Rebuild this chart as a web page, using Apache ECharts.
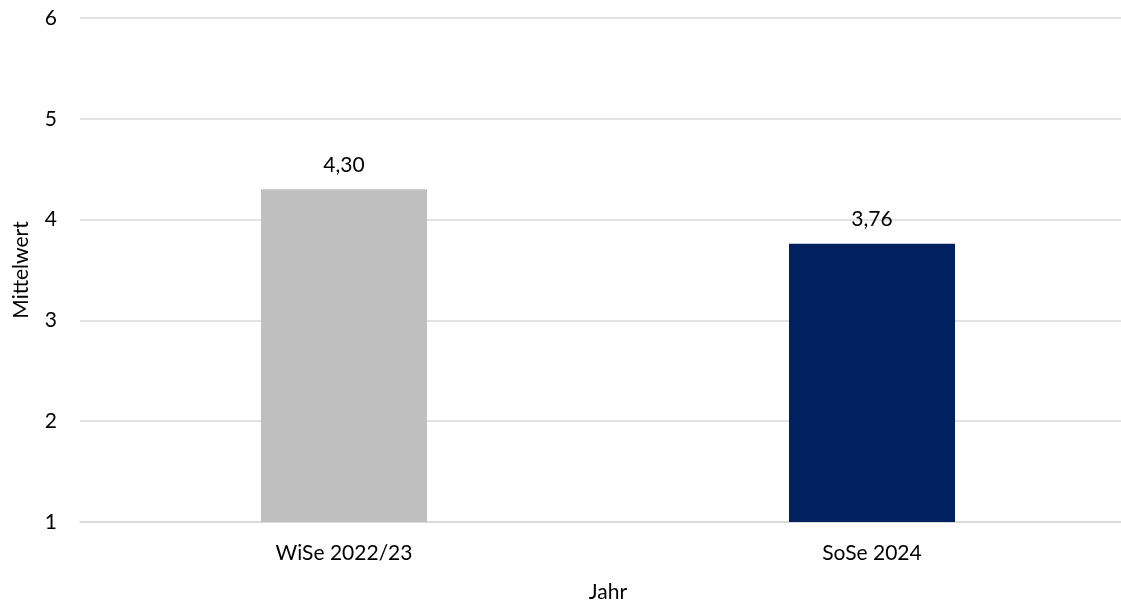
<!DOCTYPE html>
<html>
<head>
<meta charset="utf-8">
<script src="https://cdn.jsdelivr.net/npm/echarts@6/dist/echarts.min.js"></script>
<style>html,body{margin:0;padding:0;background:#fff}#c{width:1121px;height:602px}</style>
</head>
<body>
<div id="c"></div>
<script>
const categories = ['WiSe 2022/23', 'SoSe 2024'];
const values = [4.30, 3.76];
const barColors = ['#BFBFBF', '#002060'];
const yTicks = [1, 2, 3, 4, 5, 6];

const chart = echarts.init(document.getElementById('c'), null, {renderer: 'canvas'});
const font = 'Lato, "Open Sans", sans-serif';
const fs = 21;
chart.setOption({
  animation: false,
  grid: {left: 80, top: 18, width: 1056, height: 504, containLabel: false, outerBoundsMode: 'none'},
  xAxis: {
    type: 'category',
    data: categories,
    name: 'Jahr',
    nameLocation: 'middle',
    nameGap: 60,
    nameTextStyle: {color: '#000', fontSize: fs, fontFamily: font},
    axisTick: {show: false},
    axisLine: {lineStyle: {color: '#D9D9D9', width: 1.5}},
    axisLabel: {color: '#000', fontSize: fs, fontFamily: font, margin: 21}
  },
  yAxis: {
    type: 'value',
    min: yTicks[0],
    max: yTicks[yTicks.length - 1],
    interval: 1,
    name: 'Mittelwert',
    nameLocation: 'middle',
    nameGap: 48,
    nameRotate: 90,
    nameTextStyle: {color: '#000', fontSize: fs, fontFamily: font},
    axisLine: {show: false},
    axisTick: {show: false},
    splitLine: {lineStyle: {color: '#D9D9D9', width: 1.5}},
    axisLabel: {color: '#000', fontSize: fs, fontFamily: font, margin: 23}
  },
  series: [{
    type: 'bar',
    barWidth: 166,
    data: values.map((v, i) => ({value: v, itemStyle: {color: barColors[i]}})),
    label: {
      show: true,
      position: 'top',
      distance: 14,
      color: '#000',
      fontSize: fs,
      fontFamily: font,
      formatter: p => p.value.toFixed(2).replace('.', ',')
    }
  }]
});
</script>
</body>
</html>
